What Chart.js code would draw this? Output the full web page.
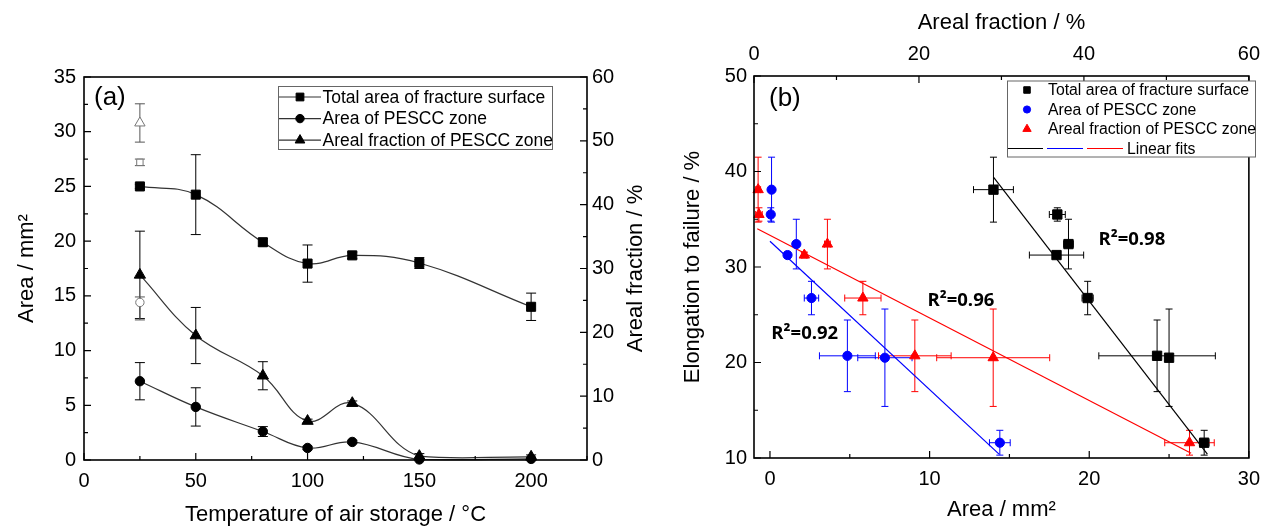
<!DOCTYPE html>
<html>
<head>
<meta charset="utf-8">
<script src="https://cdn.jsdelivr.net/npm/chart.js@4.4.1/dist/chart.umd.min.js"></script>
<style>
  html, body { margin: 0; padding: 0; background: #fff; }
  #wrap { position: relative; width: 1270px; height: 528px; overflow: hidden; }
  canvas { position: absolute; top: 0; }
  #chartA { left: 0; }
  #chartB { left: 660px; }
</style>
</head>
<body>
<div id="wrap">
  <canvas id="chartA" width="660" height="528"></canvas>
  <canvas id="chartB" width="610" height="528"></canvas>
</div>
<script>
// storage temperatures (°C)
const temps = [25, 50, 80, 100, 120, 150, 200];

// (a) left axis, mm2
const totalArea = [25.0, 24.25, 19.9, 17.95, 18.7, 18.0, 14.0];
const totalAreaErr = [0.2, 3.65, 0.35, 1.7, 0.3, 0.5, 1.25];
const pesccArea = [7.2, 4.85, 2.6, 1.1, 1.65, 0.05, 0.1];
const pesccAreaErr = [1.7, 1.75, 0.45, 0.15, 0.15, 0.05, 0.05];
// (a) right axis, %
const arealFrac = [29.0, 19.5, 13.2, 6.1, 8.9, 0.6, 0.5];
const arealFracErr = [6.85, 4.4, 2.2, 0.3, 0.35, 0.4, 0.3];

// reference sample (open symbols, plotted at 25 °C)
const refTemp = 25;
const refTotal = 27.2, refTotalErr = 0.3;
const refPescc = 14.4, refPesccErr = [1.6, 0.5];   // [minus, plus]
const refPesccXErr = 0.65;                          // horizontal bar in (b)
const refFrac = 52.8, refFracErr = 3.0;

// (b) elongation to failure (%), same order as temps
const elong = [20.5, 20.7, 26.75, 31.25, 32.4, 35.5, 38.1];
const elongErr = [5.1, 3.75, 1.75, 0.3, 2.6, 0.7, 3.4];
const refElong = 11.6, refElongErr = 1.3;

// linear fits, end points
const fitTotal = [{x: 14.0, y: 39.4}, {x: 27.4, y: 10.4}];
const fitPescc = [{x: 0, y: 32.7}, {x: 14.35, y: 10.4}];
const fitFrac = [{x: 0.4, y: 34.0}, {x: 53.0, y: 10.5}];
const fitR2 = ['R²=0.98', 'R²=0.96', 'R²=0.92'];

// tick values
const aXTicks = [0, 50, 100, 150, 200];
const aYTicks = [0, 5, 10, 15, 20, 25, 30, 35];
const aY2Ticks = [0, 10, 20, 30, 40, 50, 60];
const bXTicks = [0, 10, 20, 30];
const bX2Ticks = [0, 20, 40, 60];
const bYTicks = [10, 20, 30, 40, 50];

const FONT = '"Liberation Sans", Arial, sans-serif';
const pm = e => Array.isArray(e) ? e : [e, e];
const setTicks = vals => s => { s.ticks = vals.map(v => ({value: v})); };

// error bars, inward ticks, frame, legend and text labels
const decor = {
    id: 'decor',
    beforeDatasetsDraw(chart, args, o) {
        const ctx = chart.ctx;
        chart.data.datasets.forEach((ds, di) => {
            if (!ds.errY && !ds.errX) return;
            const meta = chart.getDatasetMeta(di);
            const sx = chart.scales[meta.xAxisID], sy = chart.scales[meta.yAxisID];
            ctx.save();
            ctx.strokeStyle = ds.errColor;
            ctx.lineWidth = 1;
            ctx.beginPath();
            ds.data.forEach((p, i) => {
                const x = sx.getPixelForValue(p.x), y = sy.getPixelForValue(p.y);
                if (ds.errY) {
                    const [lo, hi] = pm(ds.errY[i]);
                    const y0 = sy.getPixelForValue(p.y - lo), y1 = sy.getPixelForValue(p.y + hi);
                    ctx.moveTo(x, y0); ctx.lineTo(x, y1);
                    ctx.moveTo(x - o.cap, y0); ctx.lineTo(x + o.cap, y0);
                    ctx.moveTo(x - o.cap, y1); ctx.lineTo(x + o.cap, y1);
                }
                if (ds.errX) {
                    const [lo, hi] = pm(ds.errX[i]);
                    const x0 = sx.getPixelForValue(p.x - lo), x1 = sx.getPixelForValue(p.x + hi);
                    ctx.moveTo(x0, y); ctx.lineTo(x1, y);
                    ctx.moveTo(x0, y - o.cap); ctx.lineTo(x0, y + o.cap);
                    ctx.moveTo(x1, y - o.cap); ctx.lineTo(x1, y + o.cap);
                }
            });
            ctx.stroke();
            ctx.restore();
        });
    },
    afterDraw(chart, args, o) {
        const ctx = chart.ctx, a = chart.chartArea;
        ctx.save();
        ctx.strokeStyle = '#000';
        ctx.lineWidth = 1.6;
        ctx.strokeRect(a.left, a.top, a.right - a.left, a.bottom - a.top);

        ctx.lineWidth = 1.2;
        o.ticks.forEach(t => {
            const s = chart.scales[t.id];
            const marks = t.major.map(v => [v, 7]);
            for (let v = Math.ceil(s.min / t.minor) * t.minor; v <= s.max + 1e-9; v += t.minor) {
                if (!t.major.some(m => Math.abs(m - v) < 1e-9)) marks.push([v, 4]);
            }
            ctx.beginPath();
            marks.forEach(([v, len]) => {
                const p = s.getPixelForValue(v);
                if (t.side === 'bottom') { ctx.moveTo(p, a.bottom); ctx.lineTo(p, a.bottom - len); }
                if (t.side === 'top') { ctx.moveTo(p, a.top); ctx.lineTo(p, a.top + len); }
                if (t.side === 'left') { ctx.moveTo(a.left, p); ctx.lineTo(a.left + len, p); }
                if (t.side === 'right') { ctx.moveTo(a.right, p); ctx.lineTo(a.right - len, p); }
            });
            ctx.stroke();
        });

        // legend
        const lg = o.legend;
        ctx.fillStyle = '#fff';
        ctx.fillRect(...lg.box);
        ctx.strokeStyle = '#666';
        ctx.lineWidth = 1;
        ctx.strokeRect(...lg.box);
        ctx.font = lg.font;
        ctx.textBaseline = 'middle';
        ctx.textAlign = 'left';
        lg.rows.forEach(r => {
            (r.lines || []).forEach(([x0, x1, di]) => {
                const ds = chart.data.datasets[di];
                ctx.strokeStyle = ds.borderColor;
                ctx.lineWidth = 1.2;
                ctx.beginPath(); ctx.moveTo(x0, r.y); ctx.lineTo(x1, r.y); ctx.stroke();
            });
            (r.points || []).forEach(([x, di, rad]) => {
                const ds = chart.data.datasets[di];
                ctx.fillStyle = ds.pointBackgroundColor;
                ctx.strokeStyle = ds.pointBorderColor;
                ctx.lineWidth = 1;
                Chart.helpers.drawPoint(ctx, {pointStyle: ds.pointStyle, radius: rad, rotation: 0, borderWidth: 1}, x, r.y);
            });
            ctx.fillStyle = '#000';
            ctx.fillText(r.text, r.textX, r.y + 1);
        });

        // free text
        (o.texts || []).forEach(t => {
            let x = t.x, y = t.y;
            if (t.xAxis) x = chart.scales[t.xAxis].getPixelForValue(t.x);
            if (t.yAxis) y = chart.scales[t.yAxis].getPixelForValue(t.y);
            ctx.save();
            ctx.translate(x, y);
            ctx.rotate(t.rot || 0);
            ctx.font = t.font;
            ctx.fillStyle = '#000';
            ctx.textAlign = t.align || 'center';
            ctx.textBaseline = 'middle';
            ctx.fillText(t.text, 0, 0);
            ctx.restore();
        });
        ctx.restore();
    }
};

const tickFont = {family: FONT, size: 20};
const titleFont = {family: FONT, size: 22};

// ---------- panel (a) ----------
const ptsA = ys => temps.map((t, i) => ({x: t, y: ys[i]}));
const curve = (label, ys, err, style, r, axis) => ({
    label: label,
    data: ptsA(ys),
    errY: err,
    errColor: '#000',
    yAxisID: axis,
    borderColor: '#333',
    borderWidth: 1.2,
    tension: 0.4,
    pointStyle: style,
    pointRadius: r,
    pointBackgroundColor: '#000',
    pointBorderColor: '#000',
    pointBorderWidth: 1,
    clip: false
});
const openMark = (y, err, style, r, axis) => ({
    data: [{x: refTemp, y: y}],
    errY: [err],
    errColor: '#555',
    yAxisID: axis,
    showLine: false,
    pointStyle: style,
    pointRadius: r,
    pointBackgroundColor: '#fff',
    pointBorderColor: '#777',
    pointBorderWidth: 1,
    clip: false
});

new Chart(document.getElementById('chartA'), {
    type: 'line',
    data: {
        datasets: [
            curve('Total area of fracture surface', totalArea, totalAreaErr, 'rect', 6.4, 'y'),
            curve('Area of PESCC zone', pesccArea, pesccAreaErr, 'circle', 4.7, 'y'),
            curve('Areal fraction of PESCC zone', arealFrac, arealFracErr, 'triangle', 6.5, 'y1'),
            openMark(refTotal, refTotalErr, 'rect', 4.5, 'y'),
            openMark(refPescc, refPesccErr, 'circle', 4.2, 'y'),
            openMark(refFrac, refFracErr, 'triangle', 6, 'y1')
        ]
    },
    options: {
        responsive: false,
        animation: false,
        layout: { padding: {top: 77, left: 0, right: 0, bottom: 0} },
        scales: {
            x: {
                type: 'linear', min: 0, max: 225,
                afterBuildTicks: setTicks(aXTicks),
                afterFit: s => { s.height = 68; },
                grid: {display: false, drawTicks: false},
                border: {display: false},
                ticks: {font: tickFont, color: '#000', padding: 9, maxRotation: 0},
                title: {display: true, text: 'Temperature of air storage / °C', font: titleFont, color: '#000', padding: {top: 0, bottom: 0}}
            },
            y: {
                min: 0, max: 35,
                afterBuildTicks: setTicks(aYTicks),
                afterFit: s => { s.width = 84; },
                grid: {display: false, drawTicks: false},
                border: {display: false},
                ticks: {font: tickFont, color: '#000', padding: 8},
                title: {display: true, text: 'Area / mm²', font: titleFont, color: '#000', padding: {top: 14, bottom: 0}}
            },
            y1: {
                position: 'right', min: 0, max: 60,
                afterBuildTicks: setTicks(aY2Ticks),
                afterFit: s => { s.width = 73; },
                grid: {display: false, drawTicks: false},
                border: {display: false},
                ticks: {font: tickFont, color: '#000', padding: 5}
            }
        },
        plugins: {
            legend: {display: false},
            tooltip: {enabled: false},
            decor: {
                cap: 5,
                ticks: [
                    {id: 'x', side: 'bottom', major: aXTicks, minor: 25},
                    {id: 'y', side: 'left', major: aYTicks, minor: 2.5},
                    {id: 'y1', side: 'right', major: aY2Ticks, minor: 5}
                ],
                legend: {
                    box: [278.5, 86.5, 274, 63],
                    font: '17.5px ' + FONT,
                    rows: [0, 1, 2].map(i => ({
                        y: 97 + i * 21.6,
                        text: ['Total area of fracture surface', 'Area of PESCC zone', 'Areal fraction of PESCC zone'][i],
                        textX: 322.5,
                        lines: [[279, 321, i]],
                        points: [[300, i, [5.5, 4.2, 5.6][i]]]
                    }))
                },
                texts: [
                    {text: '(a)', x: 94, y: 98, align: 'left', font: '26px ' + FONT},
                    {text: 'Areal fraction / %', x: 636, y: 268.5, rot: -Math.PI / 2, font: '22px ' + FONT}
                ]
            }
        }
    },
    plugins: [decor]
});

// ---------- panel (b) ----------
const withRef = (xs, xr, ys, yr) => xs.map((v, i) => ({x: v, y: ys[i]})).concat([{x: xr, y: yr}]);
const scat = (label, data, errX, color, style, r, xAxis) => ({
    label: label,
    data: data,
    errX: errX,
    errY: elongErr.concat([refElongErr]),
    errColor: color,
    xAxisID: xAxis,
    showLine: false,
    borderColor: color,
    pointStyle: style,
    pointRadius: r,
    pointBackgroundColor: color,
    pointBorderColor: color,
    pointBorderWidth: 1,
    clip: false
});
const fit = (data, color, xAxis) => ({
    data: data,
    xAxisID: xAxis,
    showLine: true,
    borderColor: color,
    borderWidth: 1.2,
    pointRadius: 0,
    pointBackgroundColor: color,
    pointBorderColor: color
});

new Chart(document.getElementById('chartB'), {
    type: 'scatter',
    data: {
        datasets: [
            scat('Total area of fracture surface', withRef(totalArea, refTotal, elong, refElong),
                totalAreaErr.concat([refTotalErr]), '#000', 'rect', 6.6, 'x'),
            scat('Area of PESCC zone', withRef(pesccArea, refPescc, elong, refElong),
                pesccAreaErr.concat([refPesccXErr]), '#0000ff', 'circle', 4.6, 'x'),
            scat('Areal fraction of PESCC zone', withRef(arealFrac, refFrac, elong, refElong),
                arealFracErr.concat([refFracErr]), '#ff0000', 'triangle', 6, 'x2'),
            fit(fitTotal, '#000', 'x'),
            fit(fitPescc, '#0000ff', 'x'),
            fit(fitFrac, '#ff0000', 'x2')
        ]
    },
    options: {
        responsive: false,
        animation: false,
        layout: { padding: {top: 0, left: 0, right: 14, bottom: 0} },
        scales: {
            x: {
                type: 'linear', position: 'bottom', min: -1, max: 30,
                afterBuildTicks: setTicks(bXTicks),
                afterFit: s => { s.height = 70; },
                grid: {display: false, drawTicks: false},
                border: {display: false},
                ticks: {font: tickFont, color: '#000', padding: 9, maxRotation: 0},
                title: {display: true, text: 'Area / mm²', font: titleFont, color: '#000', padding: {top: 0, bottom: 5}}
            },
            x2: {
                type: 'linear', position: 'top', min: 0, max: 60,
                afterBuildTicks: setTicks(bX2Ticks),
                afterFit: s => { s.height = 76; },
                grid: {display: false, drawTicks: false},
                border: {display: false},
                ticks: {font: tickFont, color: '#000', padding: 10, maxRotation: 0},
                title: {display: true, text: 'Areal fraction / %', font: titleFont, color: '#000', padding: {top: 10, bottom: 0}}
            },
            y: {
                type: 'linear', min: 10, max: 50,
                afterBuildTicks: setTicks(bYTicks),
                afterFit: s => { s.width = 94; },
                grid: {display: false, drawTicks: false},
                border: {display: false},
                ticks: {font: tickFont, color: '#000', padding: 7},
                title: {display: true, text: 'Elongation to failure / %', font: titleFont, color: '#000', padding: {top: 20, bottom: 0}}
            }
        },
        plugins: {
            legend: {display: false},
            tooltip: {enabled: false},
            decor: {
                cap: 3.5,
                ticks: [
                    {id: 'x', side: 'bottom', major: bXTicks, minor: 5},
                    {id: 'x2', side: 'top', major: bX2Ticks, minor: 10},
                    {id: 'y', side: 'left', major: bYTicks, minor: 5}
                ],
                legend: {
                    box: [347.5, 81, 248, 76],
                    font: '15.8px ' + FONT,
                    rows: [
                        {y: 90, text: 'Total area of fracture surface', textX: 388, points: [[367, 0, 4.6]]},
                        {y: 109.5, text: 'Area of PESCC zone', textX: 388, points: [[367, 1, 3.6]]},
                        {y: 129, text: 'Areal fraction of PESCC zone', textX: 388, points: [[367, 2, 4.8]]},
                        {y: 148.5, text: 'Linear fits', textX: 467, lines: [[348, 383, 3], [387, 423, 4], [427, 463, 5]]}
                    ]
                },
                texts: [
                    {text: '(b)', x: 109, y: 99, align: 'left', font: '26px ' + FONT},
                    {text: fitR2[0], x: 22.67, y: 32.86, xAxis: 'x', yAxis: 'y', font: 'bold 18.5px "Open Sans", sans-serif'},
                    {text: fitR2[1], x: 11.96, y: 26.47, xAxis: 'x', yAxis: 'y', font: 'bold 18.5px "Open Sans", sans-serif'},
                    {text: fitR2[2], x: 2.18, y: 23.0, xAxis: 'x', yAxis: 'y', font: 'bold 18.5px "Open Sans", sans-serif'}
                ]
            }
        }
    },
    plugins: [decor]
});
</script>
</body>
</html>
